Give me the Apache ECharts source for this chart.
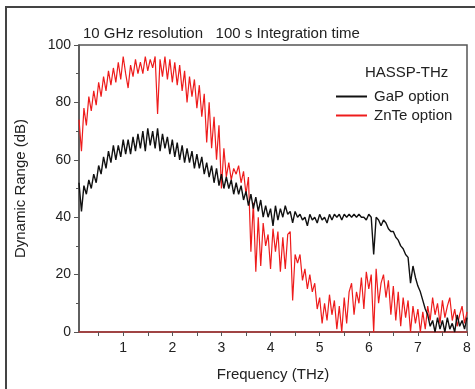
<!DOCTYPE html>
<html><head><meta charset="utf-8">
<script src="https://cdn.jsdelivr.net/npm/echarts@6/dist/echarts.min.js"></script>
<style>html,body{margin:0;padding:0;background:#fff}#c{width:475px;height:389px}</style>
</head><body><div id="c"></div>
<script>
var freq = [
0.10,0.15,0.20,0.25,0.30,0.35,0.40,0.45,0.50,0.55,
0.60,0.65,0.70,0.75,0.80,0.85,0.90,0.95,1.00,1.05,
1.10,1.15,1.20,1.25,1.30,1.35,1.40,1.45,1.50,1.55,
1.60,1.65,1.70,1.75,1.80,1.85,1.90,1.95,2.00,2.05,
2.10,2.15,2.20,2.25,2.30,2.35,2.40,2.45,2.50,2.55,
2.60,2.65,2.70,2.75,2.80,2.85,2.90,2.95,3.00,3.05,
3.10,3.15,3.20,3.25,3.30,3.35,3.40,3.45,3.50,3.55,
3.60,3.65,3.70,3.75,3.80,3.85,3.90,3.95,4.00,4.05,
4.10,4.15,4.20,4.25,4.30,4.35,4.40,4.45,4.50,4.55,
4.60,4.65,4.70,4.75,4.80,4.85,4.90,4.95,5.00,5.05,
5.10,5.15,5.20,5.25,5.30,5.35,5.40,5.45,5.50,5.55,
5.60,5.65,5.70,5.75,5.80,5.85,5.90,5.95,6.00,6.05,
6.10,6.15,6.20,6.25,6.30,6.35,6.40,6.45,6.50,6.55,
6.60,6.65,6.70,6.75,6.80,6.85,6.90,6.95,7.00,7.05,
7.10,7.15,7.20,7.25,7.30,7.35,7.40,7.45,7.50,7.55,
7.60,7.65,7.70,7.75,7.80,7.85,7.90,7.95,8.00
];
var gap = [
52,42,51,48,53,50,55,52,58,55,
61,57,63,59,65,60,65,61,67,62,
67,62,68,63,69,64,70,63,71,65,
70,64,71,63,69,64,68,62,67,61,
66,60,65,59,64,59,63,57,62,57,
61,55,59,54,58,52,57,51,55,50,
54,50,53,48,52,48,51,46,49,44,
48,43,47,42,46,40,44,40,43,37,
44,39,43,40,44,41,42,38,42,40,
41,39,40,37,41,39,40,38,41,39,
40,38,41,39,41,40,41,39,41,40,
41,40,41,40,41,40,40,39,41,40,
27,40,39,37,39,38,36,35,35,33,
32,30,29,27,26,17,23,19,16,14,
11,8,6,2,4,0,5,1,4,0,
5,1,3,0,6,2,4,1,5
];
var znte = [
74,63,78,72,82,77,84,79,87,82,
89,84,91,86,92,87,94,88,96,90,
85,93,89,95,90,94,90,96,91,95,
92,96,76,95,89,96,88,95,87,94,
86,93,84,91,80,89,82,88,78,86,
75,83,66,80,64,75,60,72,50,64,
54,59,53,57,55,58,52,56,48,54,
28,45,21,40,23,38,30,34,22,36,
28,35,21,33,22,34,35,11,27,24,
27,18,22,15,20,14,17,8,12,3,
10,4,13,6,11,1,9,0,12,3,
14,17,6,14,10,19,8,21,15,20,
0,22,10,17,20,12,18,6,16,4,
14,2,12,5,11,0,9,3,8,0,
7,1,9,4,12,6,10,3,11,5,
9,12,4,8,2,6,9,3,7
];
var xTicks = [0.5,1,1.5,2,2.5,3,3.5,4,4.5,5,5.5,6,6.5,7,7.5,8];
var xLabels = [1,2,3,4,5,6,7,8];
var seriesNames = ['GaP option','ZnTe option'];
var titleText = '10 GHz resolution   100 s Integration time';
var legendTitle = 'HASSP-THz';

function pairs(ys){ return freq.map(function(f,i){ return [f, ys[i]]; }); }

var chart = echarts.init(document.getElementById('c'), null, {renderer:'canvas'});
var font = 'Liberation Sans, Arial, sans-serif';
chart.setOption({
  animation:false,
  backgroundColor:'#fff',
  textStyle:{fontFamily:font},
  grid:{left:79,right:8,top:45,bottom:57,show:true,borderColor:'#555',borderWidth:1.5,backgroundColor:'transparent'},
  graphic:[
    {type:'rect',shape:{x:6,y:7,width:480,height:400},style:{fill:'none',stroke:'#444',lineWidth:2},z:0},
    {type:'text',left:83,top:26,style:{text:titleText,font:'15px '+font,fill:'#222'}},
    {type:'text',left:365,top:65,style:{text:legendTitle,font:'15px '+font,fill:'#222'}}
  ],
  legend:{
    orient:'vertical',left:331,top:84,itemWidth:31,itemHeight:2,itemGap:4,
    textStyle:{fontSize:15,color:'#222',fontFamily:font,padding:[0,0,0,2]},
    data:[{name:seriesNames[0],icon:'rect'},{name:seriesNames[1],icon:'rect'}]
  },
  xAxis:{
    type:'value',min:0.1,max:8,
    name:'Frequency (THz)',nameLocation:'middle',nameGap:35,
    nameTextStyle:{fontSize:15,color:'#222',fontFamily:font},
    axisLine:{show:true,lineStyle:{color:'#a04444',width:2}},
    axisTick:{show:true,customValues:xTicks,length:4,lineStyle:{color:'#555'}},
    axisLabel:{customValues:xLabels,fontSize:14,color:'#222',margin:9,fontFamily:font},
    splitLine:{show:false}
  },
  yAxis:{
    type:'value',min:0,max:100,interval:20,
    name:'Dynamic Range (dB)',nameLocation:'middle',nameGap:51,
    nameTextStyle:{fontSize:15,color:'#222',fontFamily:font},
    axisLine:{show:true,lineStyle:{color:'#555',width:1.5}},
    axisTick:{show:true,length:5,lineStyle:{color:'#555'}},
    minorTick:{show:true,splitNumber:2,length:3,lineStyle:{color:'#555'}},
    axisLabel:{fontSize:14,color:'#222',margin:8,fontFamily:font},
    splitLine:{show:false}
  },
  series:[
    {name:seriesNames[0],type:'line',data:pairs(gap),symbol:'none',color:'#111',lineStyle:{width:1.4,color:'#111'},z:3},
    {name:seriesNames[1],type:'line',data:pairs(znte),symbol:'none',color:'#ee1c1c',lineStyle:{width:1.2,color:'#ee1c1c'},z:2}
  ]
});
</script></body></html>
